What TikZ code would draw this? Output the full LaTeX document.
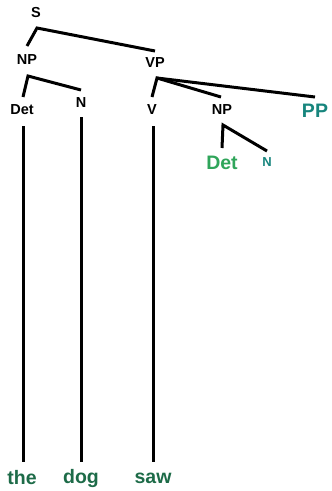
\documentclass[tikz,border=0pt]{standalone}
\usepackage{fontspec}
\setmainfont{Liberation Sans}
\begin{document}
\begin{tikzpicture}[x=1pt,y=-1pt,
  lbl/.style={font=\bfseries\fontsize{14.5}{16}\selectfont, inner sep=0pt, anchor=center},
  big/.style={font=\bfseries\fontsize{19.5}{22}\selectfont, inner sep=0pt, anchor=center},
  sm/.style={font=\bfseries\fontsize{13}{15}\selectfont, inner sep=0pt, anchor=center},
  edge/.style={line width=3pt}]
\useasboundingbox (0,0) rectangle (332,491);
\definecolor{ppteal}{HTML}{17857D}
\definecolor{detgreen}{HTML}{2FA55A}
\definecolor{wordgreen}{HTML}{1D6B48}
% labels
\node[lbl] (S) at (36,13) {S};
\node[lbl] (NP1) at (27,60) {NP};
\node[lbl] (VP) at (155,63) {VP};
\node[lbl] (Det1) at (22,110) {Det};
\node[lbl] (N1) at (81,103) {N};
\node[lbl] (V) at (152,110) {V};
\node[lbl] (NP2) at (222,110) {NP};
\node[big, text=ppteal] (PP) at (315,111) {PP};
\node[big, text=detgreen] (Det2) at (222,163) {Det};
\node[sm, text=ppteal] (N2) at (267,162) {N};
\node[big, text=wordgreen] (the) at (22,478) {the};
\node[big, text=wordgreen] (dog) at (81,478) {dog};
\node[big, text=wordgreen] (saw) at (153,478) {saw};
% connector points
\coordinate (S-b) at (37,28);
\coordinate (NP1-t) at (27,46);
\coordinate (VP-t) at (155,51);
\coordinate (NP1-b) at (28,76);
\coordinate (Det1-t) at (23,97);
\coordinate (N1-t) at (81,90);
\coordinate (VP-b) at (157,78);
\coordinate (V-t) at (152,97);
\coordinate (NP2-t) at (221,97);
\coordinate (PP-t) at (315,97);
\coordinate (NP2-b) at (223,125);
\coordinate (Det2-t) at (222,148);
\coordinate (N2-t) at (267,151);
\coordinate (Det1-b) at (23,126);
\coordinate (N1-b) at (81,117);
\coordinate (V-b) at (153,126);
\coordinate (the-t) at (23,462);
\coordinate (dog-t) at (81,462);
\coordinate (saw-t) at (153,462);
% connectors
\draw[edge] (NP1-t) -- (S-b) -- (VP-t);
\draw[edge] (Det1-t) -- (NP1-b) -- (N1-t);
\draw[edge] (V-t) -- (VP-b) -- (NP2-t);
\draw[edge] (VP-b) -- (PP-t);
\draw[edge] (Det2-t) -- (NP2-b) -- (N2-t);
\draw[edge] (Det1-b) -- (the-t);
\draw[edge] (N1-b) -- (dog-t);
\draw[edge] (V-b) -- (saw-t);
\end{tikzpicture}
\end{document}
